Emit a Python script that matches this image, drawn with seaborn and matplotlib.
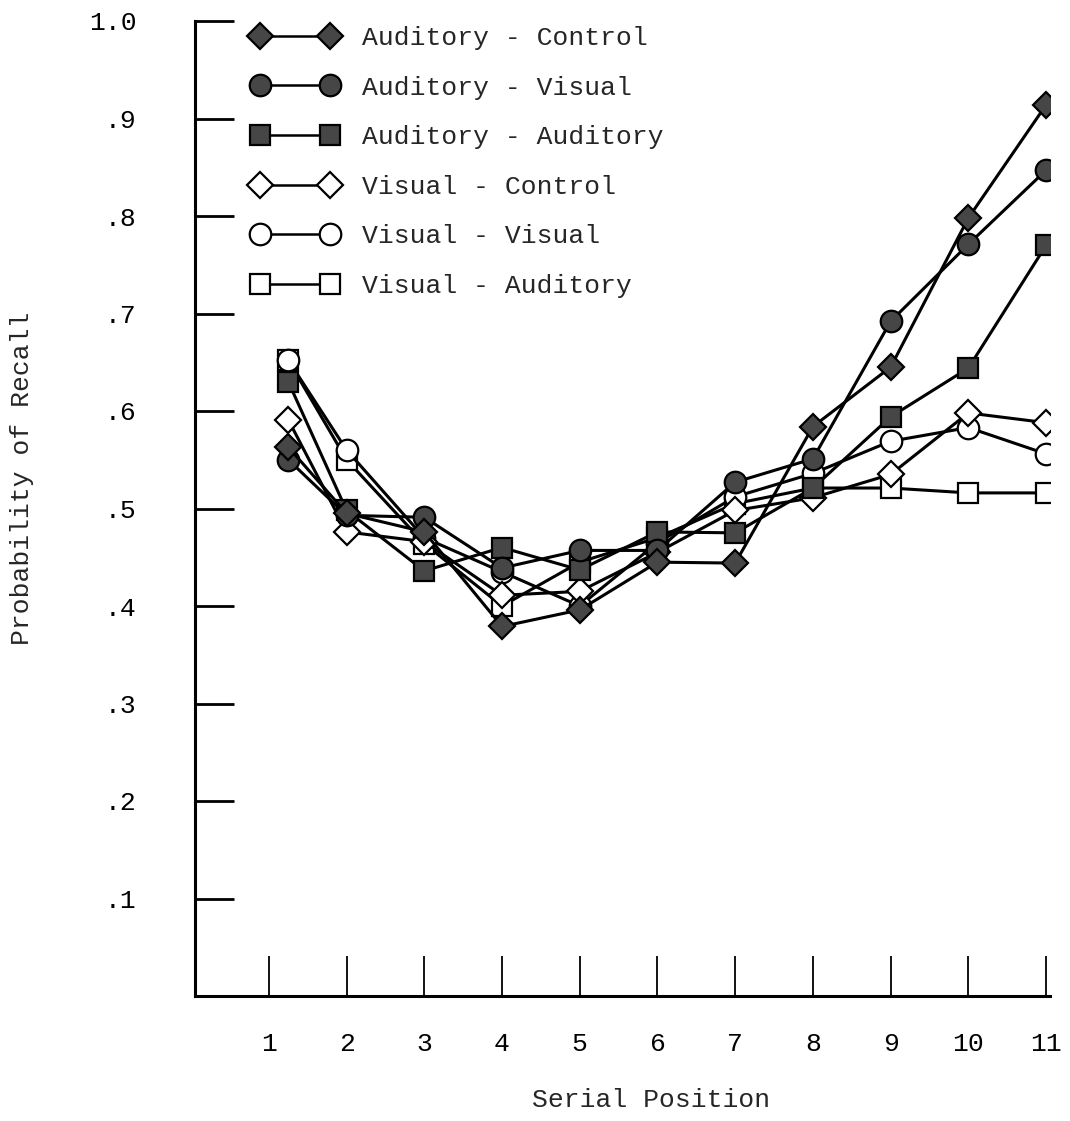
import matplotlib
matplotlib.use("Agg")
import matplotlib.pyplot as plt
import seaborn as sns
import pandas as pd
from matplotlib.lines import Line2D

# ---- data ----
serial_positions = [1, 2, 3, 4, 5, 6, 7, 8, 9, 10, 11]
plot_positions = [1.25, 2, 3, 4, 5, 6, 7, 8, 9, 10, 11]
series_names = ["Auditory - Control", "Auditory - Visual", "Auditory - Auditory",
                "Visual - Control", "Visual - Visual", "Visual - Auditory"]

aud_control = [0.563, 0.495, 0.476, 0.379, 0.396, 0.445, 0.444, 0.584, 0.645, 0.798, 0.914]
aud_visual = [0.550, 0.493, 0.491, 0.439, 0.457, 0.457, 0.527, 0.551, 0.692, 0.771, 0.847]
aud_auditory = [0.630, 0.498, 0.436, 0.460, 0.437, 0.476, 0.475, 0.521, 0.594, 0.644, 0.770]
vis_control = [0.591, 0.476, 0.466, 0.411, 0.415, 0.455, 0.498, 0.511, 0.535, 0.598, 0.588]
vis_visual = [0.652, 0.560, 0.470, 0.435, 0.400, 0.465, 0.512, 0.536, 0.569, 0.583, 0.556]
vis_auditory = [0.652, 0.550, 0.464, 0.400, 0.445, 0.470, 0.505, 0.521, 0.521, 0.516, 0.516]

y_ticks = [0.1, 0.2, 0.3, 0.4, 0.5, 0.6, 0.7, 0.8, 0.9, 1.0]
y_tick_labels = [".1", ".2", ".3", ".4", ".5", ".6", ".7", ".8", ".9", "1.0"]
x_label = "Serial Position"
y_label = "Probability of Recall"

all_values = [aud_control, aud_visual, aud_auditory, vis_control, vis_visual, vis_auditory]
rows = []
for name, vals in zip(series_names, all_values):
    for pos, sp, v in zip(plot_positions, serial_positions, vals):
        rows.append({"series": name, "x": pos, "serial": sp, "p": v})
df = pd.DataFrame(rows)

# ---- styles ----
FILL = "#464646"
styles = {
    "Auditory - Control": dict(marker="D", ms=13, mfc=FILL),
    "Auditory - Visual": dict(marker="o", ms=15.5, mfc=FILL),
    "Auditory - Auditory": dict(marker="s", ms=15, mfc=FILL),
    "Visual - Control": dict(marker="D", ms=13, mfc="white"),
    "Visual - Visual": dict(marker="o", ms=15.5, mfc="white"),
    "Visual - Auditory": dict(marker="s", ms=15, mfc="white"),
}

sns.set_style("white")
plt.rcParams["font.family"] = ["Liberation Mono", "DejaVu Sans Mono"]
FS = 19

fig = plt.figure(figsize=(10.70, 11.21), dpi=100)
ax = fig.add_axes([195 / 1070, 1 - 996 / 1121, 855 / 1070, 975 / 1121])

draw_order = ["Visual - Auditory", "Visual - Visual", "Visual - Control",
              "Auditory - Auditory", "Auditory - Visual", "Auditory - Control"]
for name in draw_order:
    st = styles[name]
    sub = df[df["series"] == name]
    sns.lineplot(data=sub, x="x", y="p", ax=ax, sort=False, errorbar=None,
                 color="black", linewidth=2.2, marker=st["marker"],
                 markersize=st["ms"], markerfacecolor=st["mfc"],
                 markeredgecolor="black", markeredgewidth=1.6, legend=False)

ax.set_xlim(0.05, 11.05)
ax.set_ylim(0, 1.0)
ax.set_xticks(serial_positions)
ax.set_xticklabels([str(s) for s in serial_positions], fontsize=FS)
ax.set_yticks(y_ticks)
ax.set_yticklabels(y_tick_labels, fontsize=FS)

for s in ["top", "right"]:
    ax.spines[s].set_visible(False)
for s in ["left", "bottom"]:
    ax.spines[s].set_linewidth(2.2)
    ax.spines[s].set_color("black")

ax.tick_params(axis="y", direction="in", length=28, width=2.0, pad=42,
               colors="black", left=True)
ax.tick_params(axis="x", direction="in", length=29, width=1.3, pad=26,
               colors="black", bottom=True)

ax.set_xlabel(x_label, fontsize=FS)
ax.set_ylabel(y_label, fontsize=FS)
ax.xaxis.set_label_coords(0.533, -0.094)
ax.yaxis.set_label_coords(-0.188, 0.531)

handles = []
for name in series_names:
    st = styles[name]
    handles.append(Line2D([], [], color="black", linewidth=1.8, marker=st["marker"],
                          markersize=st["ms"], markerfacecolor=st["mfc"],
                          markeredgecolor="black", markeredgewidth=1.6))
leg = ax.legend(handles, series_names, loc="upper left",
                bbox_to_anchor=(252 / 1070, 1 - 26 / 1121),
                bbox_transform=fig.transFigure, frameon=False, fontsize=FS,
                numpoints=2, handlelength=3.25, handletextpad=0.9,
                labelspacing=0.97, borderpad=0, borderaxespad=0)

fig.savefig("out.png", dpi=100, facecolor="white")
